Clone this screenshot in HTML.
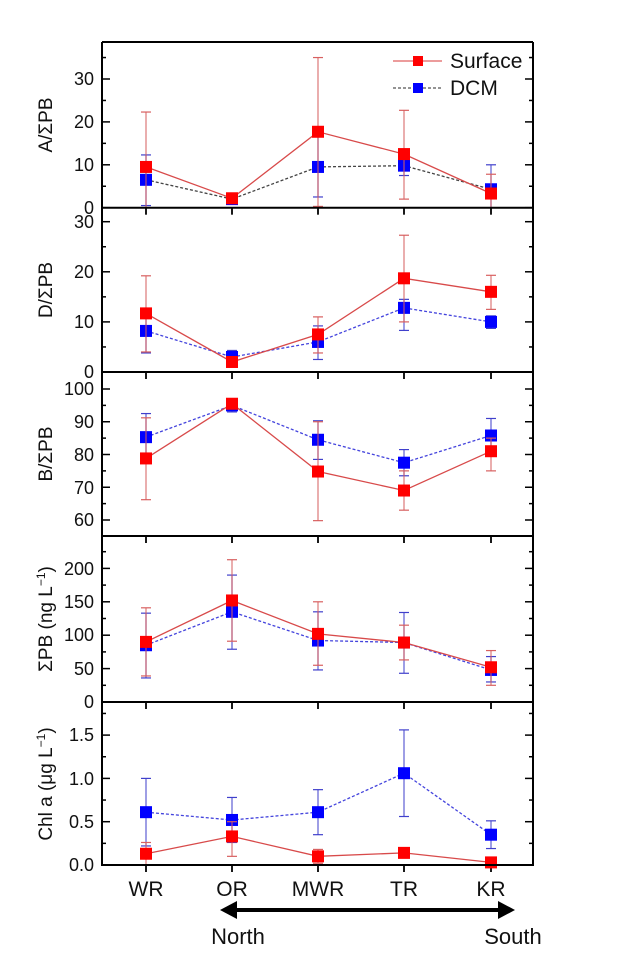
<!DOCTYPE html>
<html><head><meta charset="utf-8"><style>
html,body{margin:0;padding:0;background:#fff}
svg{display:block}
text{font-family:"Liberation Sans",Arial,sans-serif;fill:#111}
.t{font-size:18px;text-anchor:end}
.yl{font-size:19px;text-anchor:middle}
.c{font-size:21px;text-anchor:middle}
.ns{font-size:22px;text-anchor:middle}
</style></head><body>
<svg id="s" width="629" height="964" viewBox="0 0 629 964" xmlns="http://www.w3.org/2000/svg">
<g id="g"></g>
<text class="t" x="94" y="214">0</text>
<text class="t" x="94" y="171">10</text>
<text class="t" x="94" y="128">20</text>
<text class="t" x="94" y="85">30</text>
<text class="t" x="94" y="378">0</text>
<text class="t" x="94" y="328">10</text>
<text class="t" x="94" y="278">20</text>
<text class="t" x="94" y="228">30</text>
<text class="t" x="94" y="526">60</text>
<text class="t" x="94" y="494">70</text>
<text class="t" x="94" y="461">80</text>
<text class="t" x="94" y="428">90</text>
<text class="t" x="94" y="395">100</text>
<text class="t" x="94" y="708">0</text>
<text class="t" x="94" y="675">50</text>
<text class="t" x="94" y="641">100</text>
<text class="t" x="94" y="608">150</text>
<text class="t" x="94" y="575">200</text>
<text class="t" x="94" y="871">0.0</text>
<text class="t" x="94" y="828">0.5</text>
<text class="t" x="94" y="785">1.0</text>
<text class="t" x="94" y="741">1.5</text>
<text class="yl" transform="translate(52,125) rotate(-90)">A/ΣPB</text>
<text class="yl" transform="translate(52,290) rotate(-90)">D/ΣPB</text>
<text class="yl" transform="translate(52,454) rotate(-90)">B/ΣPB</text>
<text class="yl" transform="translate(52,619) rotate(-90)">ΣPB (ng L<tspan dy="-7" font-size="12">−1</tspan><tspan dy="7">)</tspan></text>
<text class="yl" transform="translate(52,784) rotate(-90)">Chl a (μg L<tspan dy="-7" font-size="12">−1</tspan><tspan dy="7">)</tspan></text>
<text class="c" x="146" y="896">WR</text>
<text class="c" x="232" y="896">OR</text>
<text class="c" x="318" y="896">MWR</text>
<text class="c" x="404" y="896">TR</text>
<text class="c" x="491" y="896">KR</text>
<text class="ns" x="238" y="944">North</text>
<text class="ns" x="513" y="944">South</text>
<line x1="393" y1="61" x2="442" y2="61" stroke="#e06060" stroke-width="1.3"/>
<rect x="413" y="56" width="10" height="10" fill="#f00"/>
<text x="450" y="68" style="font-size:21px">Surface</text>
<line x1="393" y1="88" x2="442" y2="88" stroke="#555" stroke-width="1.2" stroke-dasharray="3,2"/>
<rect x="413" y="83" width="10" height="10" fill="#00f"/>
<text x="450" y="95" style="font-size:21px">DCM</text>
<line x1="232" y1="910" x2="503" y2="910" stroke="#000" stroke-width="4"/>
<polygon points="220,910 237,901 237,919" fill="#000"/>
<polygon points="515,910 498,901 498,919" fill="#000"/>
</svg>
<script>
var NS="http://www.w3.org/2000/svg",g=document.getElementById("g");
function el(n,a){var e=document.createElementNS(NS,n);for(var k in a)e.setAttribute(k,a[k]);g.appendChild(e);return e;}
var L=102,R=533,X=[146,232,318,404,491];
var P=[
 {top:42,bot:207.7,f:function(v){return 207.7-v*4.29},min:0,max:38,mj:10,mn:5,dcol:"#444",
  s:[[9.5,22.3,0],[2.2,2.6,1.8],[17.7,35,0.3],[12.5,22.7,2],[3.3,7.8,0]],
  d:[[6.5,12.3,0.5],[2,2.5,1.5],[9.5,16.5,2.5],[9.8,11.5,7.5],[4.3,10,0]]},
 {top:207.7,bot:372,f:function(v){return 372-v*5.01},min:0,max:32,mj:10,mn:5,dcol:"#4444dd",
  s:[[11.7,19.2,4],[2,2.5,1.5],[7.5,11,3.8],[18.7,27.3,10],[16,19.3,12.5]],
  d:[[8.2,12.5,3.8],[3,4.3,1.8],[6,9.2,2.5],[12.8,14.5,8.3],[10,11.2,8.7]]},
 {top:372,bot:536,f:function(v){return 520-(v-60)*3.275},min:55,max:105,mj:10,mn:5,dcol:"#4444dd",
  s:[[78.8,91.2,66.2],[95.5,96.5,94],[74.8,90,59.8],[69,75,63],[81,85,75]],
  d:[[85.3,92.5,78],[95,96,93],[84.5,90.3,78.5],[77.5,81.5,73.5],[85.8,91,81]]},
 {top:536,bot:702,f:function(v){return 702-v*0.668},min:0,max:245,mj:50,mn:25,dcol:"#4444dd",
  s:[[90,141,39],[152,213,91],[102,150,55],[89,115,63],[52,77,25]],
  d:[[85,133,36],[135,190,79],[92,135,48],[89,134,43],[48,68,30]]},
 {top:702,bot:865,f:function(v){return 865-v*86.6},min:0,max:1.85,mj:0.5,mn:0.25,dcol:"#4444dd",
  s:[[0.13,0.26,0],[0.33,0.5,0.1],[0.1,0.18,0.02],[0.14,0.18,0.1],[0.03,0.05,0]],
  d:[[0.61,1.0,0.22],[0.52,0.78,0.26],[0.61,0.87,0.35],[1.06,1.56,0.56],[0.35,0.51,0.19]]}
];
P.forEach(function(p,i){
 for(var v=p.min;v<=p.max+1e-9;v+=p.mn){
  var vv=Math.round(v*1000)/1000;
  var y=p.f(vv), maj=Math.abs(vv/p.mj-Math.round(vv/p.mj))<1e-6, len=maj?8:4;
  if(y<p.top+1||y>p.bot)continue;
  el("line",{x1:L,y1:y,x2:L+len,y2:y,stroke:"#000","stroke-width":1.5});
  el("line",{x1:R,y1:y,x2:R-len,y2:y,stroke:"#000","stroke-width":1.5});
 }
 X.forEach(function(x){el("line",{x1:x,y1:p.bot,x2:x,y2:p.bot+7,stroke:"#000","stroke-width":1.8});});
 [["d",p.dcol,"3,2","#4040cc","#00f"],["s","#d84a4a",null,"#d86060","#f00"]].forEach(function(sr){
  var D=p[sr[0]],pts=D.map(function(d,j){return X[j]+","+p.f(d[0]).toFixed(1)}).join(" ");
  D.forEach(function(d,j){var x=X[j],y1=p.f(d[1]),y2=p.f(d[2]);
   el("line",{x1:x,y1:y1,x2:x,y2:y2,stroke:sr[3],"stroke-width":1.2,opacity:0.85});
   el("line",{x1:x-5,y1:y1,x2:x+5,y2:y1,stroke:sr[3],"stroke-width":1.2});
   el("line",{x1:x-5,y1:y2,x2:x+5,y2:y2,stroke:sr[3],"stroke-width":1.2});});
  var a={points:pts,fill:"none",stroke:sr[1],"stroke-width":1.3}; if(sr[2])a["stroke-dasharray"]=sr[2];
  el("polyline",a);
  D.forEach(function(d,j){el("rect",{x:X[j]-6,y:p.f(d[0])-6,width:12,height:12,fill:sr[4]});});
 });
 el("line",{x1:L,y1:p.bot,x2:R,y2:p.bot,stroke:"#000","stroke-width":2});
});
el("line",{x1:L,y1:42,x2:R,y2:42,stroke:"#000","stroke-width":2});
el("line",{x1:L,y1:42,x2:L,y2:866,stroke:"#000","stroke-width":2});
el("line",{x1:R,y1:42,x2:R,y2:866,stroke:"#000","stroke-width":2});
</script>
</body></html>
